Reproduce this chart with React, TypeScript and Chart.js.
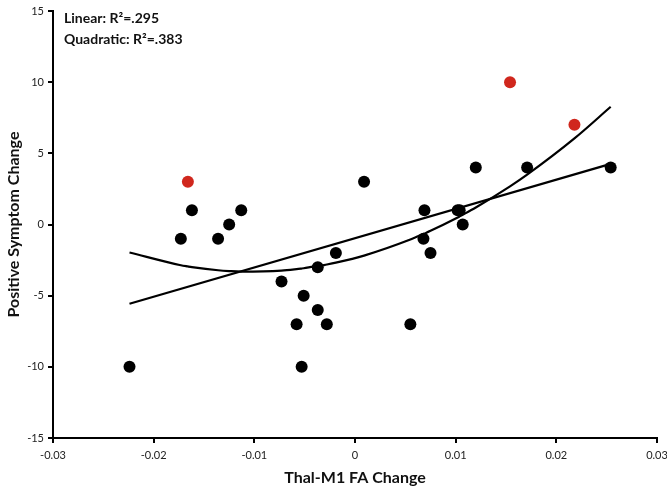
import React, { useEffect, useRef } from 'react';
import { Chart, registerables } from 'chart.js';

Chart.register(...registerables);

// Black (non-highlighted) subjects
const blackX = [
  -0.0224, -0.0162, -0.0173, -0.0136, -0.0125, -0.0113, -0.0073, -0.0058,
  -0.0051, -0.0053, -0.0037, -0.0037, -0.0028, -0.0019, 0.0009, 0.0055,
  0.0069, 0.0068, 0.0075, 0.0102, 0.0104, 0.0107, 0.0120, 0.0171, 0.0254,
];
const blackY = [
  -10, 1, -1, -1, 0, 1, -4, -7,
  -5, -10, -3, -6, -7, -2, 3, -7,
  1, -1, -2, 1, 1, 0, 4, 4, 4,
];
// Red (highlighted) subjects
const redX = [-0.0166, 0.0154, 0.0218];
const redY = [3, 10, 7];

const xTickValues = [-0.03, -0.02, -0.01, 0, 0.01, 0.02, 0.03];
const yTickValues = [-15, -10, -5, 0, 5, 10, 15];
const annotationLines = ['Linear: R\u00B2=.295', 'Quadratic: R\u00B2=.383'];
const xTitle = 'Thal-M1 FA Change';
const yTitle = 'Positive Symptom Change';

const FONT = "Lato, 'Open Sans', 'DejaVu Sans', sans-serif";

function solve3(A: number[][], b: number[]): number[] {
  const M = A.map((r, i) => [...r, b[i]]);
  for (let i = 0; i < 3; i++) {
    let p = i;
    for (let k = i + 1; k < 3; k++) if (Math.abs(M[k][i]) > Math.abs(M[p][i])) p = k;
    [M[i], M[p]] = [M[p], M[i]];
    for (let k = i + 1; k < 3; k++) {
      const f = M[k][i] / M[i][i];
      for (let j = i; j < 4; j++) M[k][j] -= f * M[i][j];
    }
  }
  const x = [0, 0, 0];
  for (let i = 2; i >= 0; i--) {
    let s = M[i][3];
    for (let j = i + 1; j < 3; j++) s -= M[i][j] * x[j];
    x[i] = s / M[i][i];
  }
  return x;
}

export default function App() {
  const ref = useRef<HTMLCanvasElement | null>(null);

  useEffect(() => {
    if (!ref.current) return;
    const allX = [...blackX, ...redX];
    const allY = [...blackY, ...redY];
    const n = allX.length;
    // linear least-squares fit of the data
    const mx = allX.reduce((a, b) => a + b, 0) / n;
    const my = allY.reduce((a, b) => a + b, 0) / n;
    let sxy = 0, sxx = 0;
    for (let i = 0; i < n; i++) {
      sxy += (allX[i] - mx) * (allY[i] - my);
      sxx += (allX[i] - mx) ** 2;
    }
    const slope = sxy / sxx;
    const icpt = my - slope * mx;
    // quadratic least-squares fit of the data (centered x)
    const S = [0, 0, 0, 0, 0];
    const T = [0, 0, 0];
    for (let i = 0; i < n; i++) {
      const u = allX[i] - mx;
      for (let k = 0; k < 5; k++) S[k] += u ** k;
      for (let k = 0; k < 3; k++) T[k] += allY[i] * u ** k;
    }
    const q = solve3(
      [
        [S[0], S[1], S[2]],
        [S[1], S[2], S[3]],
        [S[2], S[3], S[4]],
      ],
      T
    );
    const xs = [...allX].sort((a, b) => a - b);
    const linData = [xs[0], xs[xs.length - 1]].map((x) => ({ x, y: icpt + slope * x }));
    const quadData = xs.map((x) => {
      const u = x - mx;
      return { x, y: q[0] + q[1] * u + q[2] * u * u };
    });

    const annotPlugin = {
      id: 'annot',
      afterDraw(chart: any) {
        const { ctx, chartArea } = chart;
        ctx.save();
        ctx.fillStyle = '#111';
        ctx.font = `bold 14px ${FONT}`;
        ctx.textBaseline = 'middle';
        ctx.textAlign = 'left';
        annotationLines.forEach((t, i) => {
          ctx.fillText(t, chartArea.left + 11, 18 + i * 21);
        });
        ctx.restore();
      },
    };

    const chart = new Chart(ref.current, {
      type: 'scatter',
      data: {
        datasets: [
          {
            type: 'line',
            data: quadData,
            borderColor: '#000',
            borderWidth: 2.2,
            pointRadius: 0,
            fill: false,
            cubicInterpolationMode: 'monotone',
            order: 2,
          } as any,
          {
            type: 'line',
            data: linData,
            borderColor: '#000',
            borderWidth: 2.2,
            pointRadius: 0,
            fill: false,
            order: 2,
          } as any,
          {
            data: blackX.map((x, i) => ({ x, y: blackY[i] })),
            backgroundColor: '#000',
            borderColor: '#000',
            pointRadius: 6,
            borderWidth: 0,
            order: 1,
          },
          {
            data: redX.map((x, i) => ({ x, y: redY[i] })),
            backgroundColor: '#d0271d',
            borderColor: '#d0271d',
            pointRadius: 6,
            borderWidth: 0,
            order: 0,
          },
        ],
      },
      options: {
        animation: false,
        responsive: false,
        layout: { padding: { top: 11, right: 10, left: 0, bottom: 0 } },
        plugins: { legend: { display: false }, tooltip: { enabled: false } },
        scales: {
          x: {
            type: 'linear',
            min: -0.03,
            max: 0.03,
            afterBuildTicks: (s: any) => {
              s.ticks = xTickValues.map((v) => ({ value: v }));
            },
            afterFit: (s: any) => {
              s.height = 53;
              s.paddingLeft = 0;
              s.paddingRight = 0;
            },
            ticks: {
              color: '#222',
              font: { family: FONT, size: 11 },
              padding: 6,
              maxRotation: 0,
              callback: (v: any) => String(Number(Number(v).toFixed(2))),
            },
            grid: { drawOnChartArea: false, drawTicks: true, tickLength: 5, color: '#000', lineWidth: 2 },
            border: { display: true, color: '#000', width: 2 },
            title: {
              display: true,
              text: xTitle,
              color: '#111',
              font: { family: FONT, size: 16, weight: 'bold' },
              padding: { top: 4, bottom: 4 },
            },
          },
          y: {
            type: 'linear',
            min: -15,
            max: 15,
            afterBuildTicks: (s: any) => {
              s.ticks = yTickValues.map((v) => ({ value: v }));
            },
            afterFit: (s: any) => {
              s.width = 53;
            },
            ticks: {
              color: '#222',
              font: { family: FONT, size: 11 },
              padding: 4,
            },
            grid: { drawOnChartArea: false, drawTicks: true, tickLength: 5, color: '#000', lineWidth: 2 },
            border: { display: true, color: '#000', width: 2 },
            title: {
              display: true,
              text: yTitle,
              color: '#111',
              font: { family: FONT, size: 16, weight: 'bold' },
              padding: { top: 4, bottom: 4 },
            },
          },
        },
      },
      plugins: [annotPlugin],
    });
    return () => chart.destroy();
  }, []);

  return (
    <div style={{ position: 'fixed', left: 0, top: 0, width: 667, height: 491, background: '#fff' }}>
      <canvas ref={ref} width={667} height={491} style={{ display: 'block' }} />
    </div>
  );
}
